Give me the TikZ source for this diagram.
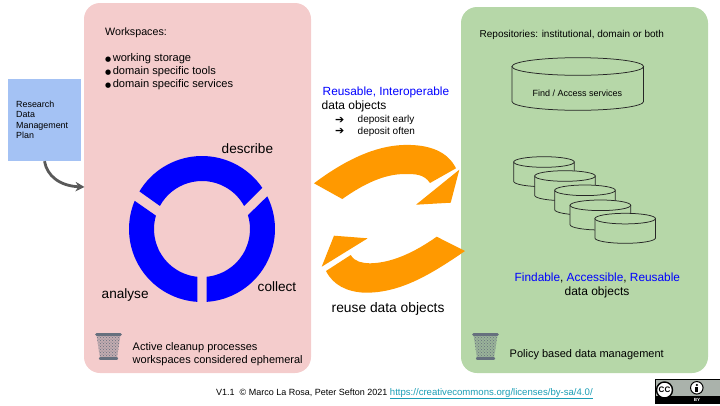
\documentclass[tikz,border=0pt]{standalone}
\usepackage{fontspec}
\setmainfont{Liberation Sans}
\newfontfamily\symfont{DejaVu Sans}
\usepackage{xcolor}
\usetikzlibrary{arrows.meta,positioning,patterns}
\definecolor{panelpink}{HTML}{F4CCCC}
\definecolor{panelgreen}{HTML}{B6D7A8}
\definecolor{planblue}{HTML}{A4C2F4}
\definecolor{flowgray}{HTML}{595959}
\definecolor{flowfill}{HTML}{FF9900}
\definecolor{linkteal}{HTML}{1A9DB5}
\definecolor{ccgray}{HTML}{AAB2AB}
\definecolor{trashgray}{HTML}{66707E}
\newcommand{\fs}[1]{\fontsize{#1}{#1}\selectfont}
\newcommand{\wsdot}{{\symfont\fontsize{7}{13}\selectfont ●}\kern1.5pt}
\tikzset{
  panel/.style={rounded corners=16pt, minimum width=#1},
  label/.style={inner sep=0pt, anchor=base west, text=black},
  ringseg/.style={fill=blue, draw=none},
  flow/.style={fill=flowfill, draw=none},
  dbline/.style={draw=black!85, line width=0.75pt, fill=panelgreen},
  pics/dbdrum/.style n args={3}{code={
    \path[dbline] ({-#1},#2) -- ({-#1},{#3-#2}) .. controls ({-#1},{#3-.45*#2}) and ({-.55*#1},#3) .. (0,#3) .. controls ({.55*#1},#3) and (#1,{#3-.45*#2}) .. (#1,{#3-#2}) -- (#1,#2) -- cycle;
    \path[dbline] (0,#2) ellipse[x radius=#1, y radius=#2];
  }},
  trashcan/.pic={
    \fill[trashgray, opacity=0.35] (1.5,2) -- (25.5,2) -- (22,25) -- (5,25) -- cycle;
    \fill[pattern=crosshatch dots, pattern color=trashgray] (1.5,2) -- (25.5,2) -- (22,25) -- (5,25) -- cycle;
    \draw[trashgray, line width=2.6pt, line cap=round] (1.5,1.6) -- (25.5,1.6);
    \draw[trashgray, line width=2.4pt, line cap=round] (5,25.4) -- (22,25.4);
  }
}
\begin{document}
\begin{tikzpicture}[x=1pt, y=-1pt, >=Stealth]
\useasboundingbox (0,0) rectangle (720,405);
\node (workspace) [panel=227pt, minimum height=370pt, fill=panelpink] at (197.5,188) {};
\node (repository) [panel=247pt, minimum height=366pt, fill=panelgreen] at (584.5,190) {};
\node (rdmp) [minimum width=73pt, minimum height=82pt, fill=planblue, inner sep=0pt] at (44.5,120) {};
\node (rdmptext) [label, anchor=north west, align=left, font=\fontsize{8.9}{10.6}\selectfont] at (16,100.5) {Research\\Data\\Management\\Plan};
\coordinate (planend) at (84.5,187);
\draw[->, flowgray, line width=2.8pt, arrows={-{Stealth[length=9pt,width=9.5pt]}}] (rdmp.south) .. controls (47,176) and (60,186) .. (planend);
\node (wstitle) [label, font=\fs{10.7}] at (105,35) {Workspaces:};
\node (wslist) [label, below right=16pt and 0pt of wstitle.south west, align=left, font=\fontsize{11.1}{13}\selectfont] {\wsdot working storage\\\wsdot domain specific tools\\\wsdot domain specific services};
\coordinate (ringc) at (202,229);
\begin{scope}[shift={(ringc)}, y=1pt]
\fill[ringseg] (34.3:73) arc[start angle=34.3, end angle=149, radius=73] -- (151.3:48) arc[start angle=151.3, end angle=28.7, radius=48] -- cycle;
\fill[ringseg] (26.6:73) arc[start angle=26.6, end angle=-86.3, radius=73] -- (-84.4:48) arc[start angle=-84.4, end angle=16.8, radius=48] -- cycle;
\fill[ringseg] (157.3:73) arc[start angle=157.3, end angle=266.3, radius=73] -- (264.4:48) arc[start angle=264.4, end angle=163.8, radius=48] -- cycle;
\end{scope}
\node (describe) [label, font=\fs{13.6}] at (221.5,153) {describe};
\node (collect) [label, font=\fs{13.6}] at (257.5,291) {collect};
\node (analyse) [label, font=\fs{13.6}] at (101.5,298) {analyse};
\node (reusable) [label, text=blue, font=\fs{11.85}] at (322.5,95) {Reusable, Interoperable};
\node (dataout) [label, font=\fs{12}] at (321.5,109.5) {data objects};
\node (arrowa) [label, font=\symfont\fs{11}] at (335,123) {➔};
\node (arrowb) [label, font=\symfont\fs{11}] at (335,134.5) {➔};
\node (early) [label, font=\fs{10}] at (357.5,122.5) {deposit early};
\node (often) [label, font=\fs{10}] at (357.5,134) {deposit often};
\fill[flow] (314,183.3) .. controls (345,160) and (375,146) .. (403,145) .. controls (430,144) and (448,152) .. (456,168.3) -- (430,183) .. controls (424,174) and (415,174) .. (405,174) .. controls (385,174) and (365,183) .. (342.3,199) -- cycle;
\fill[flow] (459.3,169.7) -- (416,204.7) -- (450.7,202.7) -- cycle;
\fill[flow] (465,251) .. controls (430,275) and (400,293) .. (365,292.7) .. controls (347,292) and (333,285) .. (326,271) -- (350.7,255) .. controls (355,262) and (362,263) .. (370,263.3) .. controls (392,263) and (415,252) .. (436.7,236.7) -- cycle;
\fill[flow] (321.7,266.7) -- (334,235.7) -- (367.7,238.3) -- cycle;
\node (reuse) [label, font=\fs{13.8}] at (331.5,312) {reuse data objects};
\node (repotitle) [label, font=\fs{10}] at (479.5,37) {Repositories: institutional, domain or both};
\pic (finddb) at (577.8,57.7) {dbdrum={65.8}{8.8}{52.6}};
\node (findtext) [label, anchor=base, font=\fs{9}] at (577.3,96) {Find / Access services};
\pic (dba) at (544,156.7) {dbdrum={30.3}{5.3}{30}};
\pic (dbb) at (565,170.7) {dbdrum={30.3}{5.3}{30}};
\pic (dbc) at (585,185) {dbdrum={30.3}{5.3}{30}};
\pic (dbd) at (600.4,200) {dbdrum={30.3}{5.3}{30}};
\pic (dbe) at (625.2,213.3) {dbdrum={30.3}{5.3}{30}};
\node (fair) [label, font=\fs{11.85}] at (514.5,281) {\textcolor{blue}{Findable}, \textcolor{blue}{Accessible}, \textcolor{blue}{Reusable}};
\node (datain) [label, anchor=base, font=\fs{12}] at (597,295) {data objects};
\pic (trashws) at (95,333) {trashcan};
\pic (trashrepo) at (472,333) {trashcan};
\node (cleanup) [label, anchor=north west, align=left, font=\fontsize{11}{12.6}\selectfont] at (132.5,342.5) {Active cleanup processes\\workspaces considered ephemeral};
\node (policy) [label, font=\fs{11}] at (509.5,357) {Policy based data management};
\node (footer) [label, font=\fs{9}] at (216,395) {V1.1 \ © Marco La Rosa, Peter Sefton 2021 {\fs{9.6}\textcolor{linkteal}{\underline{https://creativecommons.org/licenses/by-sa/4.0/}}}};
\node (badge) [minimum width=65pt, minimum height=24pt, fill=ccgray, draw=black, line width=0.6pt, inner sep=0pt] at (687.5,391) {};
\node (badgebar) [minimum width=65pt, minimum height=6.5pt, fill=black, inner sep=0pt] at (687.5,399.7) {};
\node (byword) [inner sep=0pt, text=white, font=\bfseries\fs{4.5}] at (697,399.8) {BY};
\node (ccmark) [circle, fill=white, draw=black, line width=1.4pt, minimum size=16pt, inner sep=0pt, font=\bfseries\fs{8}] at (664.5,390) {CC};
\node (infomark) [circle, fill=white, draw=black, line width=1pt, minimum size=12.5pt, inner sep=0pt] at (696.8,387.8) {};
\fill (infomark.center) ++(0,-2.8) circle[radius=1.2pt];
\fill (infomark.center) ++(-1.4,-0.9) rectangle ++(2.8,4.8);
\end{tikzpicture}
\end{document}
